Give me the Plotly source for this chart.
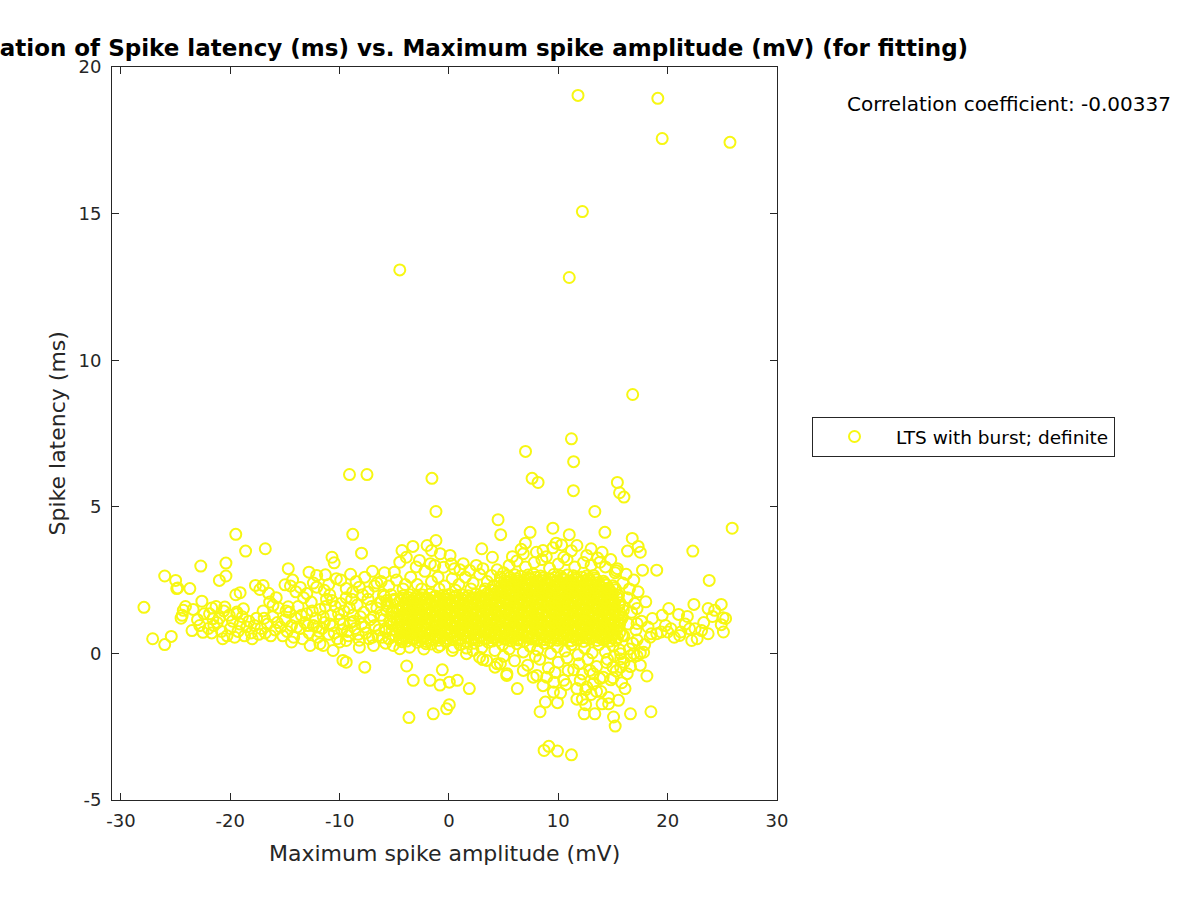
import plotly.graph_objects as go

# ---------------- data ----------------
# sparse points above the main band
high_amp = [
    11.8, 19.1, 19.5, 25.7, 12.2, -4.5, 11.0, 16.8, 11.2, 11.4,
    7.0, -9.1, -7.5, -1.56, 7.6, 8.15, 11.38, 15.4, 15.6, 16.0,
    -1.19, 13.34, 4.49, 4.73, 25.9, -19.5, -8.8, 7.42, 6.99, 9.5,
    11.0, 14.26, 16.76, 16.33, 17.3, 17.5, 22.3, 3.97, -1.19, 17.7,
    19.0, 23.8, 9.8, 11.7, 13.0, 8.6, 6.8, 10.5, 12.6, 13.8,
    15.4, -4.3, -3.3, -2.0, -1.6, -0.8, 0.1, 1.3, 3.0, -5.0,
    -4.5, -3.9, -2.7, -1.7, -0.5, 0.5, 1.9, 3.1, 3.9, 4.7,
    5.5, 6.2, 7.0, 7.8, 8.5, 9.2, 10.0, 10.8, 11.5, 12.3,
    13.0, 13.6, 14.3, 14.8, 15.2, 6.6, 8.0, 9.5, 11.2, 14.0,
    10.3, 8.9, 5.8, 4.4, 5.0,
]
high_lat = [
    19.03, 18.93, 17.56, 17.43, 15.07, 13.08, 12.82, 8.83, 7.32, 6.54,
    6.89, 6.10, 6.10, 5.97, 5.97, 5.83, 5.55, 5.83, 5.48, 5.33,
    4.84, 4.84, 4.56, 4.05, 4.27, 4.06, 4.06, 4.13, 3.76, 4.27,
    4.05, 4.13, 3.92, 3.49, 3.65, 3.45, 3.49, 3.28, 3.85, 2.84,
    2.84, 2.49, 3.76, 3.68, 3.57, 3.51, 3.40, 3.28, 3.34, 3.11,
    2.89, 3.51, 3.65, 3.68, 3.51, 3.40, 3.34, 3.06, 3.57, 2.77,
    3.11, 3.28, 3.17, 3.06, 2.94, 2.89, 2.83, 2.89, 2.66, 2.60,
    3.00, 3.15, 2.95, 3.10, 3.20, 2.90, 3.05, 3.20, 2.95, 3.10,
    3.00, 3.25, 2.95, 3.20, 2.75, 3.55, 3.45, 3.60, 3.50, 3.45,
    3.70, 3.30, 3.30, 2.85, 2.75,
]

# points below the main band (negative / near-zero latency)
low_amp = [
    11.2, 8.7, 9.13, 9.92, -3.66, -1.44, -0.21, 0.03, 15.2, 15.05,
    18.47, 16.6, 13.34, 12.36, 8.33, 8.82, 9.92, 11.7, 12.2, 12.5,
    14.0, 14.6, 9.55, 10.7, 1.86, 6.25, -3.87, -3.27, -1.74, -0.82,
    0.03, 0.76, -0.61, 3.09, 4.21, 5.28, 8.03, 8.94, 10.9, 11.4,
    13.2, 13.8, 15.0, 15.7, 16.9, 17.5, 12.6, 13.5, 18.1, -7.7,
    -9.7, -9.4, 3.45, 4.7, 5.3, 6.8, 7.7, 9.6, 10.5, 12.0,
    12.9, 13.2, 14.1, 15.0, 16.3, 15.7, 17.8, 2.8, 1.6, 2.2,
    4.4, 5.0, 6.0, 7.2, 8.3, 9.1, 10.0, 10.8, 11.9, 12.7,
    13.5, 14.5, 15.3, 16.0, 7.9, 9.7, 12.2, 14.8, 16.6, 13.9,
    15.8, 11.7, 10.2, 8.6, 14.6, 16.1, 15.5, 13.0, 12.5, 17.5,
]
low_lat = [
    -3.46, -3.31, -3.17, -3.33, -2.19, -2.06, -1.89, -1.75, -2.48, -2.17,
    -1.99, -2.06, -2.06, -2.06, -1.99, -1.66, -1.68, -1.56, -1.56, -1.24,
    -1.72, -1.72, -1.32, -1.06, -1.20, -1.20, -0.43, -0.92, -0.92, -1.08,
    -0.98, -0.92, -0.56, -0.21, -0.47, -0.75, -0.75, -0.81, -0.58, -0.56,
    -0.69, -0.86, -0.83, -0.47, -0.01, 0.01, -1.15, -1.30, -0.77, -0.47,
    -0.24, -0.30, -0.24, -0.35, -0.69, -0.58, -0.81, -0.98, -0.92, -0.92,
    -0.58, -1.03, -0.81, -0.47, -0.69, -0.01, 0.04, -0.13, -0.01, 0.10,
    -0.35, -0.10, -0.25, -0.40, -0.20, -0.50, -0.30, -0.15, -0.35, -0.20,
    -0.45, -0.20, -0.60, -0.30, -0.10, -0.65, -0.70, -0.90, -0.45, -1.30,
    -1.00, -1.20, -1.35, -1.10, -1.50, -1.20, -1.60, -1.40, -1.75, -0.40,
]

# points right of the main band
right_amp = [
    24.9, 22.4, 23.7, 24.3, 24.1, 25.3, 24.9, 25.1, 25.06, 18.0,
    17.2, 17.2, 17.2, 20.1, 19.5, 21.0, 21.8, 18.6, 18.5, 19.0,
    19.4, 20.0, 20.3, 21.2, 22.0, 22.5, 23.1, 23.7, 22.7, 22.2,
    21.1, 17.2, 16.6, 15.7, 15.1, 14.4, 15.3, 15.9, 16.5, 16.3,
    17.0, 16.7, 15.8, 16.4, 17.1, 16.0, 16.8, 17.6, 16.2, 15.9,
    17.3, 18.2, 18.4, 17.9, 16.5, 19.8, 21.6, 23.3, 20.6, 16.9,
]
right_lat = [
    1.67, 1.67, 1.53, 1.47, 1.26, 1.19, 0.98, 0.73, 1.22, 1.76,
    1.53, 1.02, 0.46, 1.53, 1.30, 1.33, 1.26, 1.19, 0.67, 0.67,
    0.73, 0.73, 0.84, 0.73, 0.84, 0.84, 0.78, 0.67, 0.50, 0.44,
    0.61, -0.08, -0.08, -0.19, -0.08, -0.31, 2.82, 2.40, 2.20, 1.90,
    1.70, 1.40, 1.20, 1.00, 0.80, 0.60, 0.35, 1.10, 2.70, 1.60,
    2.10, 0.90, 0.55, 0.30, 0.15, 0.95, 1.00, 1.05, 0.55, 2.50,
]

# fringe just above / below the dense core
fringe_amp = [
    -5.5, -4.8, -4.2, -3.5, -2.9, -2.2, -1.6, -1.0, -0.4, 0.3,
    0.9, 1.5, 2.2, 2.8, 3.5, 4.1, -3.0, -1.3, 0.2, 1.0,
    2.5, -6.2, -6.8, -5.9, -2.5, -0.9, 0.6, 2.0, 3.3, -4.0,
    -12.7, -11.8, -10.6, -8.2, -6.9, -5.1, -4.5, -3.6, -2.1, -0.8,
    0.4, -11.5, -10.0, -9.4, -14.4, -5.8, -4.3, -2.9, -2.3, -1.6,
    -1.0, -0.3, 0.3, 1.0, 1.6, 2.3, 3.0, 3.6, 4.2, 4.9,
    5.5, 6.2, 6.8, 7.4, 8.1, 8.7, 9.3, 9.9, 10.6, 11.2,
    11.8, 12.4, 13.1, 13.7, 14.3, 15.0, 15.6, -5.3, -5.6, -5.0,
]
fringe_lat = [
    2.30, 2.50, 2.20, 2.60, 2.35, 2.80, 2.45, 2.60, 2.30, 2.55,
    2.35, 2.60, 2.40, 2.70, 2.45, 2.30, 2.95, 3.00, 3.05, 2.85,
    3.00, 2.45, 2.30, 2.75, 2.20, 2.20, 2.15, 2.20, 2.20, 2.35,
    0.27, 0.33, 0.10, 0.21, 0.27, 0.27, 0.16, 0.21, 0.33, 0.27,
    0.21, 0.27, 0.39, 0.44, 0.39, 0.35, 0.40, 0.38, 0.15, 0.32,
    0.22, 0.40, 0.10, 0.30, 0.18, 0.35, 0.20, 0.38, 0.10, 0.30,
    0.15, 0.33, 0.05, 0.25, 0.12, 0.35, 0.00, 0.22, 0.08, 0.30,
    -0.05, 0.18, 0.02, 0.30, 0.05, 0.25, 0.12, 1.00, 1.60, 1.85,
]

# far-left sparse points
left_amp = [
    -27.9, -27.1, -26.0, -25.4, -26.0, -25.0, -24.9, -24.8, -23.7, -22.7,
    -20.4, -20.4, -21.0, -18.6, -22.6, -24.1, -24.3, -24.4, -24.5, -23.5,
    -22.5, -20.7, -19.5, -19.1, -21.7, -21.3, -20.5, -21.9, -21.6, -21.2,
    -20.1, -19.4, -18.8, -16.8, -8.0, -10.7, -10.5, -14.7, -7.0, -12.8,
    -12.1, -11.3, -10.3, -17.7, -17.0, -17.3, -15.0, -14.5, -13.6, -13.0,
    -12.1, -11.4, -10.9, -16.4, -16.1, -14.7, -9.4, -8.8, -8.2, -7.4,
]
left_lat = [
    1.57, 0.50, 0.30, 0.58, 2.64, 2.49, 2.21, 2.23, 2.21, 2.98,
    3.08, 2.64, 2.49, 3.49, 1.78, 1.60, 1.47, 1.30, 1.20, 0.78,
    0.72, 0.50, 2.00, 2.07, 1.55, 1.60, 1.58, 1.35, 1.18, 1.05,
    1.30, 1.41, 1.52, 3.57, 3.42, 3.28, 3.09, 2.89, 2.80, 2.77,
    2.66, 2.68, 2.55, 2.32, 2.32, 2.18, 2.34, 2.30, 2.25, 2.04,
    2.26, 2.15, 2.00, 1.75, 1.64, 1.59, 2.21, 2.09, 2.26, 2.09,
]

# left part of the band (-24 .. -5 mV)
band_amp = [
    -20.3, -20.0, -19.8, -19.6, -19.3, -19.1, -18.9, -18.7, -18.5, -18.3,
    -18.1, -19.4, -18.0, -17.8, -17.6, -17.4, -17.2, -17.0, -16.8, -16.6,
    -16.3, -16.1, -15.9, -15.6, -15.4, -15.2, -15.0, -14.8, -14.6, -14.4,
    -14.2, -14.0, -13.8, -13.6, -13.4, -13.2, -13.0, -12.8, -12.6, -12.4,
    -12.2, -12.0, -11.8, -11.6, -11.4, -11.2, -11.0, -10.8, -10.6, -10.4,
    -10.2, -10.0, -9.8, -9.6, -9.4, -9.2, -9.0, -8.8, -8.6, -8.4,
    -8.2, -8.0, -7.8, -7.6, -7.4, -7.2, -7.0, -6.8, -6.6, -6.4,
    -6.2, -6.0, -12.9, -12.5, -11.9, -11.5, -10.9, -10.5, -10.1, -9.7,
    -9.3, -9.1, -8.7, -8.3, -8.1, -7.7, -7.3, -7.1, -6.9, -6.5,
    -6.3, -11.3, -10.7, -9.9, -8.9, -7.9, -16.9, -15.7, -14.9, -13.9,
    -13.5, -12.1, -23.0, -22.4, -22.0, -21.5, -21.0, -20.8, -23.4, -22.8,
    -21.7, -20.6, -15.8, -14.0, -13.3, -12.4, -11.0, -9.9, -9.0, -8.5,
    -7.7, -6.6, -16.5, -14.3, -5.8, -5.4, -5.2, -5.7, -5.5, -5.1,
]
band_lat = [
    0.60, 0.85, 1.10, 0.55, 0.75, 1.00, 1.25, 0.60, 0.90, 1.10,
    0.70, 1.35, 0.50, 0.95, 1.20, 0.65, 0.85, 1.45, 0.70, 1.00,
    0.60, 1.25, 0.80, 1.55, 0.90, 0.60, 1.15, 0.75, 1.40, 0.95,
    0.55, 1.20, 1.60, 0.85, 0.50, 1.05, 1.35, 0.70, 1.75, 0.95,
    1.20, 0.55, 1.50, 0.85, 1.05, 1.85, 0.65, 1.30, 0.95, 1.60,
    0.50, 1.15, 0.80, 1.45, 1.90, 0.60, 1.05, 1.30, 0.85, 1.65,
    0.45, 1.00, 1.40, 0.70, 1.85, 1.15, 0.55, 0.95, 1.55, 0.80,
    1.30, 2.00, 0.95, 1.45, 0.75, 1.25, 1.00, 0.70, 1.35, 1.00,
    0.75, 1.55, 1.10, 0.65, 1.25, 0.90, 0.50, 1.60, 1.25, 0.60,
    1.75, 1.60, 1.80, 1.70, 1.85, 2.00, 1.20, 1.05, 1.45, 0.90,
    1.30, 0.90, 1.15, 1.35, 0.85, 0.95, 1.20, 0.75, 1.50, 0.95,
    0.70, 1.45, 1.90, 2.10, 1.90, 2.40, 2.35, 2.50, 2.70, 2.45,
    2.60, 2.40, 2.05, 2.50, 0.75, 1.10, 1.45, 1.80, 0.50, 1.25,
]

# left edge of the dense core (-6.2 .. -4.6 mV)
coreleft_amp = [
    -6.1, -5.5, -4.9, -5.8, -5.2, -4.65, -6.0, -5.4, -4.8,
    -5.7, -5.1, -4.7, -6.2, -5.6, -5.0, -5.9, -5.3, -4.75,
]
coreleft_lat = [
    0.55, 0.50, 0.60, 0.85, 0.80, 0.90, 1.15, 1.10, 1.20,
    1.45, 1.40, 1.50, 1.75, 1.70, 1.80, 1.95, 2.00, 1.05,
]

# dense core of the cloud (-4.5 .. 15.5 mV, 0.4 .. 2.7 ms), one latency row per block
core_amp = [
    -4.48, -3.86, -3.31, -2.66, -2.12, -1.47, -0.93, -0.27, 0.32, 0.88, 1.54, 2.07, 2.73, 3.28, 3.94, 4.47, 5.13,
    5.66, 6.34, 6.87, 7.53, 8.06, 8.74, 9.27, 9.93, 10.46, 11.14, 11.67, 12.33, 12.88, 13.54, 14.07, 14.73, 15.28,
    -4.17, -3.58, -2.96, -2.43, -1.79, -1.22, -0.58, 0.03, 0.57, 1.22, 1.78, 2.41, 2.97, 3.62, 4.18, 4.79, 5.42,
    5.97, 6.61, 7.18, 7.79, 8.42, 8.98, 9.61, 10.19, 10.77, 11.43, 11.98, 12.62, 13.17, 13.79, 14.41, 14.98, 15.85,
    -4.52, -3.93, -3.27, -2.71, -2.08, -1.53, -0.88, -0.31, 0.28, 0.93, 1.49, 2.12, 2.68, 3.33, 3.89, 4.52, 5.08,
    5.71, 6.29, 6.92, 7.48, 8.11, 8.69, 9.32, 9.88, 10.51, 11.09, 11.72, 12.28, 12.93, 13.49, 14.12, 14.68, 15.33,
    -4.22, -3.63, -2.92, -2.38, -1.83, -1.17, -0.62, 0.07, 0.61, 1.17, 1.83, 2.37, 3.02, 3.58, 4.22, 4.77, 5.38,
    6.02, 6.58, 7.22, 7.77, 8.38, 9.03, 9.57, 10.22, 10.82, 11.38, 12.02, 12.58, 13.22, 13.77, 14.37, 15.02, 15.58,
    -4.47, -3.88, -3.32, -2.67, -2.13, -1.48, -0.92, -0.28, 0.33, 0.87, 1.53, 2.08, 2.72, 3.27, 3.93, 4.48, 5.12,
    5.67, 6.33, 6.88, 7.52, 8.07, 8.73, 9.28, 9.92, 10.47, 11.13, 11.68, 12.32, 12.87, 13.53, 14.08, 14.72, 15.70,
    -4.18, -3.57, -2.97, -2.42, -1.78, -1.23, -0.57, 0.02, 0.58, 1.23, 1.77, 2.42, 2.98, 3.63, 4.17, 4.78, 5.43,
    5.98, 6.62, 7.17, 7.78, 8.43, 8.97, 9.62, 10.18, 10.78, 11.42, 11.97, 12.63, 13.18, 13.78, 14.42, 14.97, 15.52,
    -4.51, -3.92, -3.28, -2.72, -2.07, -1.52, -0.87, -0.32, 0.27, 0.92, 1.48, 2.13, 2.67, 3.32, 3.88, 4.53, 5.07,
    5.72, 6.28, 6.93, 7.47, 8.12, 8.68, 9.33, 9.87, 10.52, 11.08, 11.73, 12.27, 12.92, 13.48, 14.13, 14.67, 15.95,
    -4.21, -3.62, -2.93, -2.37, -1.82, -1.18, -0.63, 0.08, 0.62, 1.18, 1.82, 2.38, 3.03, 3.57, 4.23, 4.76, 5.37,
    6.03, 6.57, 7.23, 7.76, 8.37, 9.02, 9.58, 10.23, 10.81, 11.37, 12.03, 12.57, 13.23, 13.76, 14.38, 15.03, 15.57,
    -4.46, -3.87, -3.33, -2.68, -2.14, -1.47, -0.91, -0.29, 0.34, 0.86, 1.52, 2.09, 2.71, 3.26, 3.92, 4.49, 5.11,
    5.68, 6.32, 6.89, 7.51, 8.08, 8.72, 9.29, 9.91, 10.48, 11.12, 11.69, 12.31, 12.88, 13.52, 14.09, 14.71, 14.95,
    -4.19, -3.58, -2.98, -2.41, -1.77, -1.24, -0.56, 0.01, 0.59, 1.24, 1.76, 2.43, 2.99, 3.64, 4.16, 4.79, 5.44,
    5.99, 6.63, 7.16, 7.79, 8.44, 8.96, 9.63, 10.17, 10.79, 11.41, 11.96, 12.64, 13.19, 13.79, 14.43, 14.96, 15.51,
    3.21, 3.86, 4.48, 5.13, 5.67, 6.32, 6.88, 7.53, 8.07, 8.73, 9.28,
    9.92, 10.48, 11.13, 11.67, 12.33, 12.87, 13.53, 14.08, 14.72, 15.27,
    4.12, 4.78, 5.42, 5.98, 6.62, 7.17, 7.78, 8.43, 8.97, 9.62,
    10.18, 10.78, 11.42, 11.97, 12.63, 13.18, 13.78, 14.42, 14.97,
    5.08, 5.72, 6.28, 6.93, 7.47, 8.12, 8.68, 9.33,
    9.87, 10.52, 11.08, 11.73, 12.27, 12.92, 13.48, 14.13,
    5.37, 6.03, 6.57, 7.23, 7.76, 8.37,
    9.58, 10.23, 10.81, 11.37, 12.57, 13.23,
]
core_lat = [
    0.47, 0.42, 0.49, 0.44, 0.41, 0.48, 0.45, 0.43, 0.50, 0.46, 0.41, 0.47, 0.44, 0.49, 0.42, 0.45, 0.48,
    0.43, 0.46, 0.41, 0.49, 0.44, 0.47, 0.42, 0.45, 0.50, 0.43, 0.46, 0.41, 0.48, 0.44, 0.47, 0.42, 0.45,
    0.60, 0.65, 0.61, 0.58, 0.64, 0.62, 0.59, 0.66, 0.61, 0.63, 0.58, 0.65, 0.60, 0.62, 0.67, 0.59, 0.63,
    0.60, 0.64, 0.58, 0.62, 0.66, 0.59, 0.63, 0.61, 0.64, 0.58, 0.62, 0.65, 0.60, 0.63, 0.59, 0.64, 0.61,
    0.78, 0.82, 0.76, 0.80, 0.83, 0.77, 0.81, 0.79, 0.75, 0.82, 0.78, 0.80, 0.84, 0.77, 0.79, 0.81, 0.76,
    0.83, 0.78, 0.80, 0.82, 0.77, 0.79, 0.81, 0.84, 0.76, 0.80, 0.78, 0.82, 0.79, 0.77, 0.83, 0.80, 0.78,
    0.95, 0.98, 0.93, 0.97, 1.00, 0.94, 0.96, 0.99, 0.93, 0.97, 0.95, 1.00, 0.94, 0.96, 0.98, 0.93, 0.97,
    0.95, 0.99, 0.94, 0.96, 1.00, 0.93, 0.97, 0.95, 0.98, 0.94, 0.96, 0.99, 0.93, 0.97, 0.95, 0.98, 0.96,
    1.12, 1.15, 1.10, 1.14, 1.17, 1.11, 1.13, 1.16, 1.10, 1.14, 1.12, 1.17, 1.11, 1.13, 1.15, 1.10, 1.14,
    1.12, 1.16, 1.11, 1.13, 1.17, 1.10, 1.14, 1.12, 1.15, 1.11, 1.13, 1.16, 1.10, 1.14, 1.12, 1.15, 1.13,
    1.29, 1.32, 1.27, 1.31, 1.34, 1.28, 1.30, 1.33, 1.27, 1.31, 1.29, 1.34, 1.28, 1.30, 1.32, 1.27, 1.31,
    1.29, 1.33, 1.28, 1.30, 1.34, 1.27, 1.31, 1.29, 1.32, 1.28, 1.30, 1.33, 1.27, 1.31, 1.29, 1.32, 1.30,
    1.46, 1.49, 1.44, 1.48, 1.51, 1.45, 1.47, 1.50, 1.44, 1.48, 1.46, 1.51, 1.45, 1.47, 1.49, 1.44, 1.48,
    1.46, 1.50, 1.45, 1.47, 1.51, 1.44, 1.48, 1.46, 1.49, 1.45, 1.47, 1.50, 1.44, 1.48, 1.46, 1.49, 1.47,
    1.63, 1.66, 1.61, 1.65, 1.68, 1.62, 1.64, 1.67, 1.61, 1.65, 1.63, 1.68, 1.62, 1.64, 1.66, 1.61, 1.65,
    1.63, 1.67, 1.62, 1.64, 1.68, 1.61, 1.65, 1.63, 1.66, 1.62, 1.64, 1.67, 1.61, 1.65, 1.63, 1.66, 1.64,
    1.80, 1.83, 1.78, 1.82, 1.85, 1.79, 1.81, 1.84, 1.78, 1.82, 1.80, 1.85, 1.79, 1.81, 1.83, 1.78, 1.82,
    1.80, 1.84, 1.79, 1.81, 1.85, 1.78, 1.82, 1.80, 1.83, 1.79, 1.81, 1.84, 1.78, 1.82, 1.80, 1.83, 1.81,
    1.97, 2.00, 1.95, 1.99, 2.02, 1.96, 1.98, 2.01, 1.95, 1.99, 1.97, 2.02, 1.96, 1.98, 2.00, 1.95, 1.99,
    1.97, 2.01, 1.96, 1.98, 2.02, 1.95, 1.99, 1.97, 2.00, 1.96, 1.98, 2.01, 1.95, 1.99, 1.97, 2.00, 1.98,
    2.12, 2.15, 2.14, 2.17, 2.12, 2.16, 2.19, 2.13, 2.15, 2.18, 2.12,
    2.16, 2.14, 2.19, 2.13, 2.15, 2.17, 2.12, 2.16, 2.14, 2.17,
    2.28, 2.31, 2.34, 2.29, 2.33, 2.36, 2.30, 2.32, 2.35, 2.29,
    2.33, 2.31, 2.36, 2.30, 2.32, 2.34, 2.29, 2.33, 2.31,
    2.48, 2.51, 2.46, 2.50, 2.53, 2.47, 2.49, 2.52,
    2.46, 2.50, 2.48, 2.53, 2.47, 2.49, 2.51, 2.46,
    2.65, 2.68, 2.63, 2.67, 2.70, 2.64,
    2.69, 2.63, 2.67, 2.65, 2.64, 2.66,
]

# second, interleaved layer of the dense core (rows between the ones above)
core2_amp = [
    -4.33, -3.72, -3.14, -2.51, -1.95, -1.32, -0.76, -0.13, 0.44, 1.06, 1.63, 2.26, 2.82, 3.46, 4.03, 4.64, 5.25,
    5.84, 6.46, 7.04, 7.65, 8.23, 8.86, 9.44, 10.05, 10.63, 11.27, 11.84, 12.46, 13.04, 13.66, 14.24, 14.86, 15.42,
    -4.03, -3.44, -2.81, -2.24, -1.62, -1.04, -0.42, 0.17, 0.76, 1.36, 1.94, 2.56, 3.13, 3.76, 4.34, 4.94, 5.56,
    6.14, 6.76, 7.34, 7.96, 8.54, 9.16, 9.73, 10.35, 10.94, 11.56, 12.14, 12.76, 13.33, 13.96, 14.54, 15.14, 15.62,
    -4.33, -3.72, -3.14, -2.51, -1.95, -1.32, -0.76, -0.13, 0.44, 1.06, 1.63, 2.26, 2.82, 3.46, 4.03, 4.64, 5.25,
    5.84, 6.46, 7.04, 7.65, 8.23, 8.86, 9.44, 10.05, 10.63, 11.27, 11.84, 12.46, 13.04, 13.66, 14.24, 14.86, 15.42,
    -4.03, -3.44, -2.81, -2.24, -1.62, -1.04, -0.42, 0.17, 0.76, 1.36, 1.94, 2.56, 3.13, 3.76, 4.34, 4.94, 5.56,
    6.14, 6.76, 7.34, 7.96, 8.54, 9.16, 9.73, 10.35, 10.94, 11.56, 12.14, 12.76, 13.33, 13.96, 14.54, 15.14, 15.62,
    -4.33, -3.72, -3.14, -2.51, -1.95, -1.32, -0.76, -0.13, 0.44, 1.06, 1.63, 2.26, 2.82, 3.46, 4.03, 4.64, 5.25,
    5.84, 6.46, 7.04, 7.65, 8.23, 8.86, 9.44, 10.05, 10.63, 11.27, 11.84, 12.46, 13.04, 13.66, 14.24, 14.86, 15.85,
    -4.03, -3.44, -2.81, -2.24, -1.62, -1.04, -0.42, 0.17, 0.76, 1.36, 1.94, 2.56, 3.13, 3.76, 4.34, 4.94, 5.56,
    6.14, 6.76, 7.34, 7.96, 8.54, 9.16, 9.73, 10.35, 10.94, 11.56, 12.14, 12.76, 13.33, 13.96, 14.54, 15.14, 15.62,
    -4.33, -3.72, -3.14, -2.51, -1.95, -1.32, -0.76, -0.13, 0.44, 1.06, 1.63, 2.26, 2.82, 3.46, 4.03, 4.64, 5.25,
    5.84, 6.46, 7.04, 7.65, 8.23, 8.86, 9.44, 10.05, 10.63, 11.27, 11.84, 12.46, 13.04, 13.66, 14.24, 14.86, 15.10,
    -4.03, -3.44, -2.81, -2.24, -1.62, -1.04, -0.42, 0.17, 0.76, 1.36, 1.94, 2.56, 3.13, 3.76, 4.34, 4.94, 5.56,
    6.14, 6.76, 7.34, 7.96, 8.54, 9.16, 9.73, 10.35, 10.94, 11.56, 12.14, 12.76, 13.33, 13.96, 14.54, 15.14, 15.62,
    -4.33, -3.72, -3.14, -2.51, -1.95, -1.32, -0.76, -0.13, 0.44, 1.06, 1.63, 2.26, 2.82, 3.46, 4.03, 4.64, 5.25,
    5.84, 6.46, 7.04, 7.65, 8.23, 8.86, 9.44, 10.05, 10.63, 11.27, 11.84, 12.46, 13.04, 13.66, 14.24, 14.86, 15.42,
    3.52, 4.05, 4.64, 5.25, 5.84, 6.46, 7.04, 7.65, 8.23, 8.86,
    9.44, 10.05, 10.63, 11.27, 11.84, 12.46, 13.04, 13.66, 14.24, 14.86,
    4.94, 5.56, 6.14, 6.76, 7.34, 7.96, 8.54, 9.16, 9.73,
    10.35, 10.94, 11.56, 12.14, 12.76, 13.33, 13.96, 14.54, 15.14,
    4.64, 5.25, 5.84, 6.46, 7.04, 7.65, 8.23, 8.86, 9.44,
    10.05, 10.63, 11.27, 11.84, 12.46, 13.04, 13.66, 14.24,
    5.56, 6.14, 7.34, 7.96, 8.54, 9.16,
    9.73, 10.35, 11.56, 12.14, 12.76, 13.33,
]
core2_lat = [
    0.53, 0.55, 0.51, 0.54, 0.52, 0.56, 0.53, 0.51, 0.55, 0.52, 0.54, 0.53, 0.56, 0.51, 0.53, 0.55, 0.52,
    0.54, 0.51, 0.56, 0.53, 0.52, 0.55, 0.54, 0.51, 0.53, 0.56, 0.52, 0.54, 0.53, 0.55, 0.51, 0.53, 0.54,
    0.70, 0.72, 0.68, 0.71, 0.69, 0.73, 0.70, 0.68, 0.72, 0.69, 0.71, 0.70, 0.73, 0.68, 0.70, 0.72, 0.69,
    0.71, 0.68, 0.73, 0.70, 0.69, 0.72, 0.71, 0.68, 0.70, 0.73, 0.69, 0.71, 0.70, 0.72, 0.68, 0.70, 0.71,
    0.87, 0.89, 0.85, 0.88, 0.86, 0.90, 0.87, 0.85, 0.89, 0.86, 0.88, 0.87, 0.90, 0.85, 0.87, 0.89, 0.86,
    0.88, 0.85, 0.90, 0.87, 0.86, 0.89, 0.88, 0.85, 0.87, 0.90, 0.86, 0.88, 0.87, 0.89, 0.85, 0.87, 0.88,
    1.04, 1.06, 1.02, 1.05, 1.03, 1.07, 1.04, 1.02, 1.06, 1.03, 1.05, 1.04, 1.07, 1.02, 1.04, 1.06, 1.03,
    1.05, 1.02, 1.07, 1.04, 1.03, 1.06, 1.05, 1.02, 1.04, 1.07, 1.03, 1.05, 1.04, 1.06, 1.02, 1.04, 1.05,
    1.21, 1.23, 1.19, 1.22, 1.20, 1.24, 1.21, 1.19, 1.23, 1.20, 1.22, 1.21, 1.24, 1.19, 1.21, 1.23, 1.20,
    1.22, 1.19, 1.24, 1.21, 1.20, 1.23, 1.22, 1.19, 1.21, 1.24, 1.20, 1.22, 1.21, 1.23, 1.19, 1.21, 1.22,
    1.38, 1.40, 1.36, 1.39, 1.37, 1.41, 1.38, 1.36, 1.40, 1.37, 1.39, 1.38, 1.41, 1.36, 1.38, 1.40, 1.37,
    1.39, 1.36, 1.41, 1.38, 1.37, 1.40, 1.39, 1.36, 1.38, 1.41, 1.37, 1.39, 1.38, 1.40, 1.36, 1.38, 1.39,
    1.55, 1.57, 1.53, 1.56, 1.54, 1.58, 1.55, 1.53, 1.57, 1.54, 1.56, 1.55, 1.58, 1.53, 1.55, 1.57, 1.54,
    1.56, 1.53, 1.58, 1.55, 1.54, 1.57, 1.56, 1.53, 1.55, 1.58, 1.54, 1.56, 1.55, 1.57, 1.53, 1.55, 1.56,
    1.72, 1.74, 1.70, 1.73, 1.71, 1.75, 1.72, 1.70, 1.74, 1.71, 1.73, 1.72, 1.75, 1.70, 1.72, 1.74, 1.71,
    1.73, 1.70, 1.75, 1.72, 1.71, 1.74, 1.73, 1.70, 1.72, 1.75, 1.71, 1.73, 1.72, 1.74, 1.70, 1.72, 1.73,
    1.89, 1.91, 1.87, 1.90, 1.88, 1.92, 1.89, 1.87, 1.91, 1.88, 1.90, 1.89, 1.92, 1.87, 1.89, 1.91, 1.88,
    1.90, 1.87, 1.92, 1.89, 1.88, 1.91, 1.90, 1.87, 1.89, 1.92, 1.88, 1.90, 1.89, 1.91, 1.87, 1.89, 1.90,
    2.05, 2.03, 2.06, 2.08, 2.04, 2.07, 2.05, 2.09, 2.06, 2.04,
    2.08, 2.05, 2.07, 2.06, 2.09, 2.04, 2.06, 2.08, 2.05, 2.07,
    2.23, 2.25, 2.21, 2.24, 2.22, 2.26, 2.23, 2.21, 2.25,
    2.22, 2.24, 2.23, 2.26, 2.21, 2.23, 2.25, 2.22, 2.24,
    2.40, 2.42, 2.38, 2.41, 2.39, 2.43, 2.40, 2.38, 2.42,
    2.39, 2.41, 2.40, 2.43, 2.38, 2.40, 2.42, 2.39,
    2.59, 2.55, 2.56, 2.60, 2.57, 2.55,
    2.59, 2.56, 2.57, 2.60, 2.55, 2.57,
]

series_name = "LTS with burst; definite"
correlation_text = "Correlation coefficient: -0.00337"
x_ticks = [-30, -20, -10, 0, 10, 20, 30]
x_tick_labels = ["-30", "-20", "-10", "0", "10", "20", "30"]
y_ticks = [-5, 0, 5, 10, 15, 20]
y_tick_labels = ["-5", "0", "5", "10", "15", "20"]

groups = [(high_amp, high_lat), (low_amp, low_lat), (right_amp, right_lat),
          (fringe_amp, fringe_lat), (left_amp, left_lat), (band_amp, band_lat),
          (coreleft_amp, coreleft_lat), (core_amp, core_lat), (core2_amp, core2_lat)]
amplitude = []
latency = []
for a, l in groups:
    assert len(a) == len(l), (len(a), len(l))
    amplitude += a
    latency += l

# ---------------- figure ----------------
YELLOW = "#f7f712"
AXC = "#262626"
FONT = "DejaVu Sans"

fig = go.Figure()
fig.add_trace(go.Scatter(
    x=amplitude, y=latency, mode="markers", name=series_name,
    marker=dict(symbol="circle-open", size=11, color=YELLOW,
                line=dict(width=2, color=YELLOW)),
))

axis_common = dict(
    showgrid=False, zeroline=False, showline=True, linecolor=AXC, linewidth=1,
    mirror="ticks", ticks="inside", ticklen=7, tickwidth=1, tickcolor=AXC,
    tickfont=dict(family=FONT, size=18, color=AXC),
)
fig.update_xaxes(range=[-30.82, 30], tickvals=x_ticks, ticktext=x_tick_labels,
                 ticklabelstandoff=4, **axis_common)
fig.update_yaxes(range=[-5, 20], tickvals=y_ticks, ticktext=y_tick_labels,
                 ticklabelstandoff=6, **axis_common)

fig.update_layout(
    width=1200, height=900,
    margin=dict(l=112, r=423, t=67, b=100),
    paper_bgcolor="white", plot_bgcolor="white",
    font=dict(family=FONT, color=AXC),
    title=dict(
        text="<b>Correlation of Spike latency (ms) vs. Maximum spike amplitude (mV) (for fitting)</b>",
        font=dict(family=FONT, size=23, color="black"),
        x=0.5, xref="paper", xanchor="center",
        y=1 - 48 / 900, yref="container", yanchor="middle",
    ),
    showlegend=True,
    legend=dict(
        x=(812 - 112) / 665, y=(800 - 417) / 733, xanchor="left", yanchor="top",
        bgcolor="white", bordercolor=AXC, borderwidth=1,
        font=dict(family=FONT, size=18.5, color="black"),
        itemwidth=73,
    ),
    annotations=[
        dict(text=correlation_text, xref="paper", yref="paper",
             x=(845 - 112) / 665, y=(800 - 104) / 733, xanchor="left", yanchor="middle",
             showarrow=False, font=dict(family=FONT, size=20, color="black")),
        dict(text="Maximum spike amplitude (mV)", xref="paper", yref="paper",
             x=0.5, y=(800 - 853) / 733, xanchor="center", yanchor="middle",
             showarrow=False, font=dict(family=FONT, size=22, color=AXC)),
        dict(text="Spike latency (ms)", xref="paper", yref="paper",
             x=(57 - 112) / 665, y=0.5, xanchor="center", yanchor="middle", textangle=-90,
             showarrow=False, font=dict(family=FONT, size=22, color=AXC)),
    ],
)

fig.write_html("out.html")
